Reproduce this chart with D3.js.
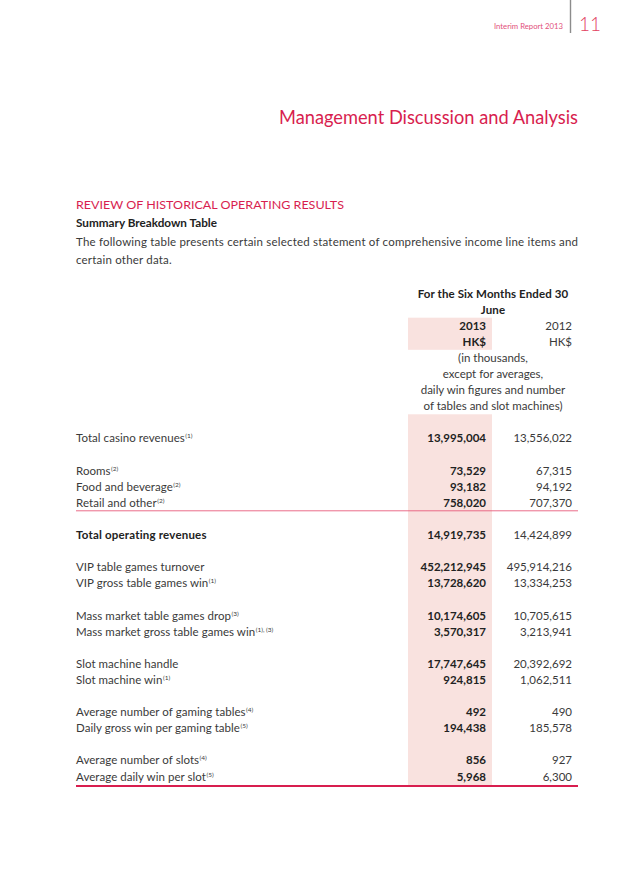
<!DOCTYPE html>
<html><head><meta charset="utf-8">
<script src="https://cdn.jsdelivr.net/npm/d3@7"></script>
<style>body{margin:0;background:#fff}svg text{font-family:Lato,"Open Sans",sans-serif}</style>
</head><body>
<script>
// ---- data ----
const headerLines = ["For the Six Months Ended 30", "June"];
const years = ["2013", "2012"];
const currency = ["HK$", "HK$"];
const unitNote = ["(in thousands,", "except for averages,", "daily win figures and number", "of tables and slot machines)"];
const rowIndex = [9, 11, 12, 13, 15, 17, 18, 20, 21, 23, 24, 26, 27, 29, 30];
const labels = ["Total casino revenues", "Rooms", "Food and beverage", "Retail and other", "Total operating revenues",
  "VIP table games turnover", "VIP gross table games win", "Mass market table games drop", "Mass market gross table games win",
  "Slot machine handle", "Slot machine win", "Average number of gaming tables", "Daily gross win per gaming table",
  "Average number of slots", "Average daily win per slot"];
const notes = ["(1)", "(2)", "(2)", "(2)", "", "", "(1)", "(3)", "(1), (3)", "", "(1)", "(4)", "(5)", "(4)", "(5)"];
const v2013 = ["13,995,004", "73,529", "93,182", "758,020", "14,919,735", "452,212,945", "13,728,620", "10,174,605",
  "3,570,317", "17,747,645", "924,815", "492", "194,438", "856", "5,968"];
const v2012 = ["13,556,022", "67,315", "94,192", "707,370", "14,424,899", "495,914,216", "13,334,253", "10,705,615",
  "3,213,941", "20,392,692", "1,062,511", "490", "185,578", "927", "6,300"];
const boldRows = ["Total operating revenues"];

const W = 640, H = 869;
const crimson = "#d81e4f", pink = "#e85c7c", shade = "#f9e2df", ink = "#3a3a3a";
const svg = d3.select("body").append("svg").attr("width", W).attr("height", H);

// page header
svg.append("text").attr("x", 563).attr("y", 29).attr("text-anchor", "end")
  .attr("font-size", 8.4).attr("fill", "#e2507a").attr("textLength", 69).attr("lengthAdjust", "spacingAndGlyphs")
  .text("Interim Report 2013");
svg.append("line").attr("x1", 570.5).attr("x2", 570.5).attr("y1", 0).attr("y2", 33)
  .attr("stroke", "#8c8c8c").attr("stroke-width", 1.4);
svg.append("text").attr("x", 579).attr("y", 31).attr("font-size", 19).attr("font-weight", 300)
  .attr("fill", "#e2405f").text("11");

svg.append("text").attr("x", 578).attr("y", 124).attr("text-anchor", "end")
  .attr("font-size", 19.5).attr("fill", crimson).attr("textLength", 299).attr("lengthAdjust", "spacingAndGlyphs")
  .text("Management Discussion and Analysis");

svg.append("text").attr("x", 76).attr("y", 209).attr("font-size", 12).attr("fill", crimson)
  .attr("textLength", 268).attr("lengthAdjust", "spacingAndGlyphs")
  .text("REVIEW OF HISTORICAL OPERATING RESULTS");
svg.append("text").attr("x", 76).attr("y", 227).attr("font-size", 11.5).attr("font-weight", 700).attr("fill", "#222")
  .attr("textLength", 141).attr("lengthAdjust", "spacingAndGlyphs").text("Summary Breakdown Table");
svg.append("text").attr("x", 76).attr("y", 246).attr("font-size", 11.5).attr("fill", ink)
  .attr("textLength", 502).attr("lengthAdjust", "spacing")
  .text("The following table presents certain selected statement of comprehensive income line items and");
svg.append("text").attr("x", 76).attr("y", 264).attr("font-size", 11.5).attr("fill", ink)
  .attr("letter-spacing", 0.2).text("certain other data.");

// ---- table scales ----
const y = d3.scaleLinear().domain([0, 30]).range([297.5, 780.5]);
const x = d3.scaleLinear().domain([0, 1]).range([76, 578]);
const colShadeL = 408, colShadeR = 492, col2013 = 486, col2012 = 572, colMid = 493;
const fs = 11.5;

// shading
svg.append("rect").attr("x", colShadeL).attr("width", colShadeR - colShadeL)
  .attr("y", y(2) - 12).attr("height", y(3) + 4 - (y(2) - 12)).attr("fill", shade);
svg.append("rect").attr("x", colShadeL).attr("width", colShadeR - colShadeL)
  .attr("y", y(8) - 12).attr("height", y(30) + 5 - (y(8) - 12)).attr("fill", shade);

// header block
svg.selectAll("text.hd").data(headerLines).join("text").attr("class", "hd")
  .attr("x", colMid).attr("y", (d, i) => y(i)).attr("text-anchor", "middle")
  .attr("font-size", fs).attr("font-weight", 700).attr("fill", "#222").attr("letter-spacing", 0.1).text(d => d);
svg.selectAll("text.yr").data(years).join("text").attr("class", "yr")
  .attr("x", (d, i) => i ? col2012 : col2013).attr("y", y(2)).attr("text-anchor", "end")
  .attr("font-size", fs).attr("font-weight", (d, i) => i ? 400 : 700).attr("fill", (d, i) => i ? ink : "#222").text(d => d);
svg.selectAll("text.cur").data(currency).join("text").attr("class", "cur")
  .attr("x", (d, i) => i ? col2012 : col2013).attr("y", y(3)).attr("text-anchor", "end")
  .attr("font-size", fs).attr("font-weight", (d, i) => i ? 400 : 700).attr("fill", (d, i) => i ? ink : "#222").text(d => d);
svg.selectAll("text.un").data(unitNote).join("text").attr("class", "un")
  .attr("x", colMid).attr("y", (d, i) => y(4 + i)).attr("text-anchor", "middle")
  .attr("font-size", fs).attr("fill", ink).text(d => d);

// body rows
const rows = labels.map((l, i) => ({ label: l, note: notes[i], a: v2013[i], b: v2012[i], r: rowIndex[i], bold: boldRows.includes(l) }));
const lab = svg.selectAll("text.lab").data(rows).join("text").attr("class", "lab")
  .attr("x", x(0)).attr("y", d => y(d.r)).attr("font-size", fs)
  .attr("font-weight", d => d.bold ? 700 : 400).attr("fill", d => d.bold ? "#222" : ink);
lab.append("tspan").attr("letter-spacing", d => d.bold ? 0.2 : 0.05).text(d => d.label);
lab.filter(d => d.note).append("tspan").attr("font-size", 6.5).attr("dy", -4).attr("dx", 0.5).text(d => d.note);

svg.selectAll("text.va").data(rows).join("text").attr("class", "va")
  .attr("x", col2013).attr("y", d => y(d.r)).attr("text-anchor", "end").attr("font-size", fs)
  .attr("font-weight", 700).attr("fill", "#222").text(d => d.a);
svg.selectAll("text.vb").data(rows).join("text").attr("class", "vb")
  .attr("x", col2012).attr("y", d => y(d.r)).attr("text-anchor", "end").attr("font-size", fs)
  .attr("fill", ink).text(d => d.b);

// rules
svg.append("line").attr("x1", x(0)).attr("x2", x(1)).attr("y1", y(13) + 4).attr("y2", y(13) + 4)
  .attr("stroke", pink).attr("stroke-width", 0.9);
svg.append("line").attr("x1", x(0)).attr("x2", x(1)).attr("y1", y(30) + 5.5).attr("y2", y(30) + 5.5)
  .attr("stroke", crimson).attr("stroke-width", 2.2);
</script>
</body></html>
